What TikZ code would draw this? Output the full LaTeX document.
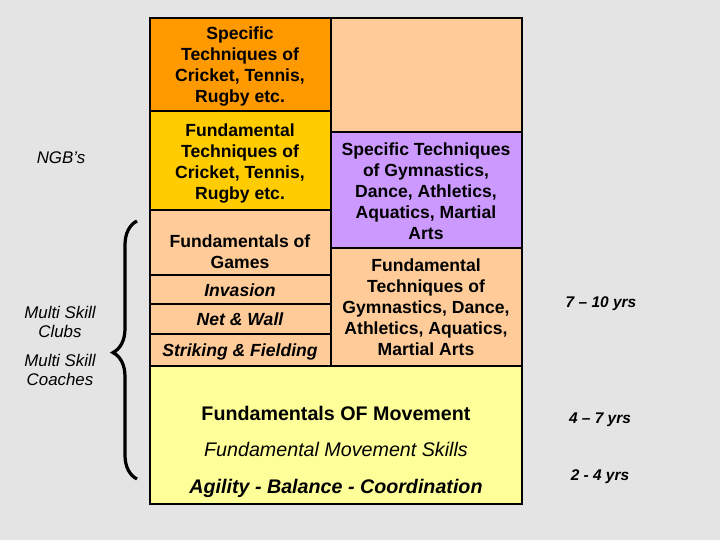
\documentclass[tikz,border=0pt]{standalone}
\usepackage{fontspec}
\setmainfont{Liberation Sans}
\usetikzlibrary{decorations.pathreplacing}
\pgfdeclarelayer{boxlayer}
\pgfdeclarelayer{textlayer}
\pgfsetlayers{boxlayer,textlayer,main}
\definecolor{marble}{RGB}{228,228,228}
\definecolor{deeporange}{RGB}{255,153,0}
\definecolor{gold}{RGB}{255,204,0}
\definecolor{peach}{RGB}{255,204,153}
\definecolor{lilac}{RGB}{204,153,255}
\definecolor{cream}{RGB}{255,255,153}
\tikzstyle{box}=[draw=black, line width=0.8pt, shape=rectangle, inner sep=0pt, outer sep=0pt]
\tikzstyle{orange box}=[box, fill=deeporange]
\tikzstyle{gold box}=[box, fill=gold]
\tikzstyle{peach box}=[box, fill=peach]
\tikzstyle{lilac box}=[box, fill=lilac]
\tikzstyle{cream box}=[box, fill=cream]
\tikzstyle{box text}=[align=center, inner sep=0pt, font=\fontsize{12.5}{15}\selectfont\bfseries]
\tikzstyle{game text}=[box text, font=\fontsize{12.5}{15}\selectfont\bfseries\itshape]
\tikzstyle{big text}=[inner sep=0pt, font=\fontsize{14}{17}\selectfont]
\tikzstyle{side text}=[align=center, inner sep=0pt, font=\fontsize{12}{13.5}\selectfont\itshape]
\tikzstyle{age text}=[inner sep=0pt, font=\fontsize{11}{13}\selectfont\bfseries\itshape]
\tikzstyle{brace edge}=[draw=black, line width=2.3pt, decorate, decoration={brace, amplitude=0.6cm, aspect=0.49}]

\begin{document}
\begin{tikzpicture}
	\begin{pgfonlayer}{boxlayer}
		\fill [marble] (-9, -6.75) rectangle (9, 6.75);
		\node [style=orange box, minimum width=4.525cm, minimum height=2.325cm] (0) at (-2.9875, 5.1375) {};
		\node [style=gold box, minimum width=4.525cm, minimum height=2.475cm] (1) at (-2.9875, 2.7375) {};
		\node [style=peach box, minimum width=4.525cm, minimum height=1.625cm] (2) at (-2.9875, 0.6875) {};
		\node [style=peach box, minimum width=4.525cm, minimum height=0.725cm] (3) at (-2.9875, -0.4875) {};
		\node [style=peach box, minimum width=4.525cm, minimum height=0.75cm] (4) at (-2.9875, -1.225) {};
		\node [style=peach box, minimum width=4.525cm, minimum height=0.8cm] (5) at (-2.9875, -2.0) {};
		\node [style=peach box, minimum width=4.775cm, minimum height=2.85cm] (6) at (1.6625, 4.875) {};
		\node [style=lilac box, minimum width=4.775cm, minimum height=2.9cm] (7) at (1.6625, 2.0) {};
		\node [style=peach box, minimum width=4.775cm, minimum height=2.95cm] (8) at (1.6625, -0.925) {};
		\node [style=cream box, minimum width=9.3cm, minimum height=3.45cm] (9) at (-0.6, -4.125) {};
	\end{pgfonlayer}
	\begin{pgfonlayer}{textlayer}
		\node [style=box text] (10) at (-3.0, 5.09) {Specific\\Techniques of\\Cricket, Tennis,\\Rugby etc.};
		\node [style=box text] (11) at (-3.0, 2.67) {Fundamental\\Techniques of\\Cricket, Tennis,\\Rugby etc.};
		\node [style=box text] (12) at (-3.0, 0.46) {Fundamentals of\\Games};
		\node [style=game text] (13) at (-3.0, -0.5) {Invasion};
		\node [style=game text] (14) at (-3.0, -1.225) {Net \& Wall};
		\node [style=game text] (15) at (-3.0, -2.04) {Striking \& Fielding};
		\node [style=box text] (16) at (1.65, 1.97) {Specific Techniques\\of Gymnastics,\\Dance, Athletics,\\Aquatics, Martial\\Arts};
		\node [style=box text] (17) at (1.65, -0.93) {Fundamental\\Techniques of\\Gymnastics, Dance,\\Athletics, Aquatics,\\Martial Arts};
		\node [style=big text, font=\fontsize{14}{17}\selectfont\bfseries] (18) at (-0.6, -3.575) {Fundamentals OF Movement};
		\node [style=big text, font=\fontsize{14}{17}\selectfont\itshape] (19) at (-0.6, -4.475) {Fundamental Movement Skills};
		\node [style=big text, font=\fontsize{14}{17}\selectfont\bfseries\itshape] (20) at (-0.6, -5.45) {Agility - Balance - Coordination};
		\node [style=side text] (21) at (-7.475, 2.8) {NGB’s};
		\node [style=side text] (22) at (-7.5, -1.3) {Multi Skill\\Clubs};
		\node [style=side text] (23) at (-7.5, -2.51) {Multi Skill\\Coaches};
		\node [style=age text] (24) at (6.025, -0.85) {7 – 10 yrs};
		\node [style=age text] (25) at (6.0, -3.75) {4 – 7 yrs};
		\node [style=age text] (26) at (6.0, -5.175) {2 - 4 yrs};
		\coordinate (27) at (-5.575, -5.225);
		\coordinate (28) at (-5.575, 1.225);
	\end{pgfonlayer}
	\draw [style=brace edge] (27) to (28);
\end{tikzpicture}
\end{document}
